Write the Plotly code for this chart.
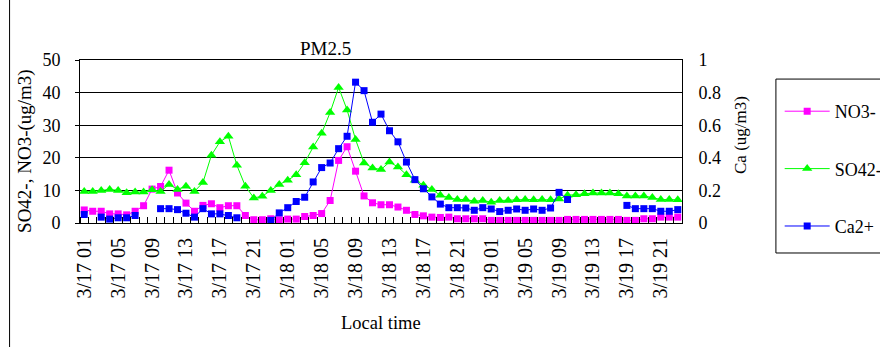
import plotly.graph_objects as go

# hourly categories 3/17 01 ... 3/19 23
hours = [f"3/{d} {h:02d}" for d in (17, 18, 19) for h in range(24)][1:]
tick_labels = ["3/17 01", "3/17 05", "3/17 09", "3/17 13", "3/17 17", "3/17 21",
               "3/18 01", "3/18 05", "3/18 09", "3/18 13", "3/18 17", "3/18 21",
               "3/19 01", "3/19 05", "3/19 09", "3/19 13", "3/19 17", "3/19 21"]

no3 = [4.0, 3.6, 3.6, 2.8, 2.8, 2.5, 3.6, 5.3, 10.4, 11.2,
       16.2, 9.2, 6.1, 3.6, 5.4, 5.9, 4.7, 5.3, 5.3, 2.3,
       1.0, 1.0, 1.3, 1.0, 1.2, 1.2, 2.0, 2.3, 2.9, 6.9,
       19.2, 23.4, 15.9, 8.3, 6.2, 5.6, 5.6, 4.9, 3.9, 2.6,
       2.2, 1.8, 1.7, 1.8, 1.3, 1.3, 1.3, 1.3, 0.8, 0.8,
       0.8, 0.8, 0.8, 0.8, 0.8, 0.8, 0.8, 1.1, 1.1, 1.1,
       1.1, 1.1, 1.1, 1.1, 0.8, 0.8, 1.3, 1.3, 1.8, 1.8, 1.8]

so4 = [9.7, 9.7, 10.0, 10.3, 10.0, 9.3, 9.5, 9.5, 10.2, 9.7,
       11.8, 10.3, 11.3, 9.7, 12.4, 20.8, 24.9, 26.6, 17.7, 11.3,
       7.7, 8.2, 10.0, 11.8, 13.1, 14.8, 18.5, 23.3, 27.5, 33.9,
       41.6, 34.7, 25.6, 18.4, 16.9, 16.4, 18.7, 17.2, 14.8, 13.1,
       11.6, 10.3, 8.5, 7.8, 7.2, 7.2, 6.7, 6.9, 6.4, 6.9,
       6.9, 7.1, 7.2, 7.1, 7.2, 7.1, 7.4, 8.5, 8.7, 9.0,
       9.2, 9.2, 9.2, 9.0, 8.3, 8.3, 8.3, 7.8, 7.2, 7.2, 7.1]

ca = [0.052, None, 0.036, 0.024, 0.032, 0.032, 0.046, None, None, 0.088,
      0.088, 0.082, 0.060, 0.036, 0.088, 0.056, 0.056, 0.046, 0.032, None,
      None, None, 0.016, 0.062, 0.094, 0.132, 0.158, 0.252, 0.340, 0.368,
      0.456, 0.532, 0.864, 0.812, 0.618, 0.668, 0.566, 0.498, 0.374, 0.266,
      0.210, 0.160, 0.116, 0.094, 0.094, 0.092, 0.078, 0.094, 0.086, 0.070,
      0.078, 0.086, 0.078, 0.086, 0.078, 0.092, 0.188, 0.144, None, None,
      None, None, None, None, 0.108, 0.088, 0.088, 0.088, 0.072, 0.072, 0.082]

xidx = list(range(len(hours)))
tickvals = [hours.index(t) for t in tick_labels]

FONT = "Liberation Serif"

fig = go.Figure()
fig.add_trace(go.Scatter(x=xidx, y=no3, name="NO3-", mode="lines+markers",
                         line=dict(color="#FF00FF", width=1),
                         marker=dict(symbol="square", size=7, color="#FF00FF"),
                         legendgroup="a"))
fig.add_trace(go.Scatter(x=xidx, y=so4, name="SO42-", mode="lines+markers",
                         line=dict(color="#00FF00", width=1),
                         marker=dict(symbol="triangle-up", size=9, color="#00FF00"),
                         legendgroup="b"))
fig.add_trace(go.Scatter(x=xidx, y=ca, name="Ca2+", mode="lines+markers",
                         line=dict(color="#0000FF", width=1),
                         marker=dict(symbol="square", size=7, color="#0000FF"),
                         connectgaps=False, yaxis="y2",
                         legendgroup="c"))

fig.update_layout(
    width=880, height=347, autosize=False, hovermode=False,
    margin=dict(l=80, r=198, t=60, b=124),
    paper_bgcolor="white", plot_bgcolor="white",
    font=dict(family=FONT, size=18, color="black"),
    showlegend=True,
    xaxis=dict(range=[-0.5, len(hours) - 0.5], tickmode="array",
               tickvals=tickvals, ticktext=tick_labels, tickangle=-90,
               ticks="", showgrid=False, zeroline=False, automargin=False,
               showline=True, linecolor="black", linewidth=1, mirror=True,
               ticklabelstandoff=6,
               minor=dict(tick0=-0.5, dtick=1, ticks="inside", ticklen=6,
                          tickcolor="black", showgrid=False),
               tickfont=dict(size=20, family=FONT)),
    yaxis=dict(range=[0, 50], dtick=10, showgrid=True, gridcolor="black",
               gridwidth=1, zeroline=False, showline=True, linecolor="black",
               linewidth=1, ticks="outside", ticklen=4, tickcolor="black",
               ticklabelstandoff=11, automargin=False,
               tickfont=dict(size=18, family=FONT)),
    yaxis2=dict(range=[0, 1], dtick=0.2, overlaying="y", side="right",
                showgrid=False, zeroline=False, showline=True, automargin=False,
                linecolor="black", linewidth=1, ticks="", ticklabelstandoff=12,
                tickfont=dict(size=18, family=FONT)),
    legend=dict(xref="container", yref="container", x=0.886, y=0.732,
                xanchor="left", yanchor="top",
                bgcolor="rgba(0,0,0,0)", borderwidth=0,
                tracegroupgap=31, traceorder="grouped", itemwidth=45,
                font=dict(size=18, family=FONT)),
    annotations=[
        dict(text="PM2.5", xref="paper", yref="paper", x=0.407, y=1.0706,
             xanchor="center", yanchor="middle", showarrow=False,
             font=dict(size=19, family=FONT)),
        dict(text="SO42-, NO3-(ug/m3)", xref="paper", yref="paper",
             x=-0.0914, y=0.442, textangle=-90, xanchor="center",
             yanchor="middle", showarrow=False, font=dict(size=19, family=FONT)),
        dict(text="Ca (ug/m3)", xref="paper", yref="paper",
             x=1.098, y=0.54, textangle=-90, xanchor="center",
             yanchor="middle", showarrow=False, font=dict(size=17, family=FONT)),
        dict(text="Local time", xref="paper", yref="paper",
             x=0.5, y=-0.613, xanchor="center", yanchor="middle",
             showarrow=False, font=dict(size=18.5, family=FONT)),
    ],
    shapes=[
        dict(type="rect", xref="paper", yref="paper", x0=1.156, x1=1.35,
             y0=-0.184, y1=0.883, line=dict(color="black", width=1)),
        dict(type="line", xref="paper", yref="paper", x0=-0.117, x1=-0.117,
             y0=-0.8, y1=1.4, line=dict(color="black", width=1)),
    ],
)

fig.write_html("out.html", config={"displayModeBar": False},
               post_script="document.body.style.margin='0';document.body.style.overflow='hidden';")
